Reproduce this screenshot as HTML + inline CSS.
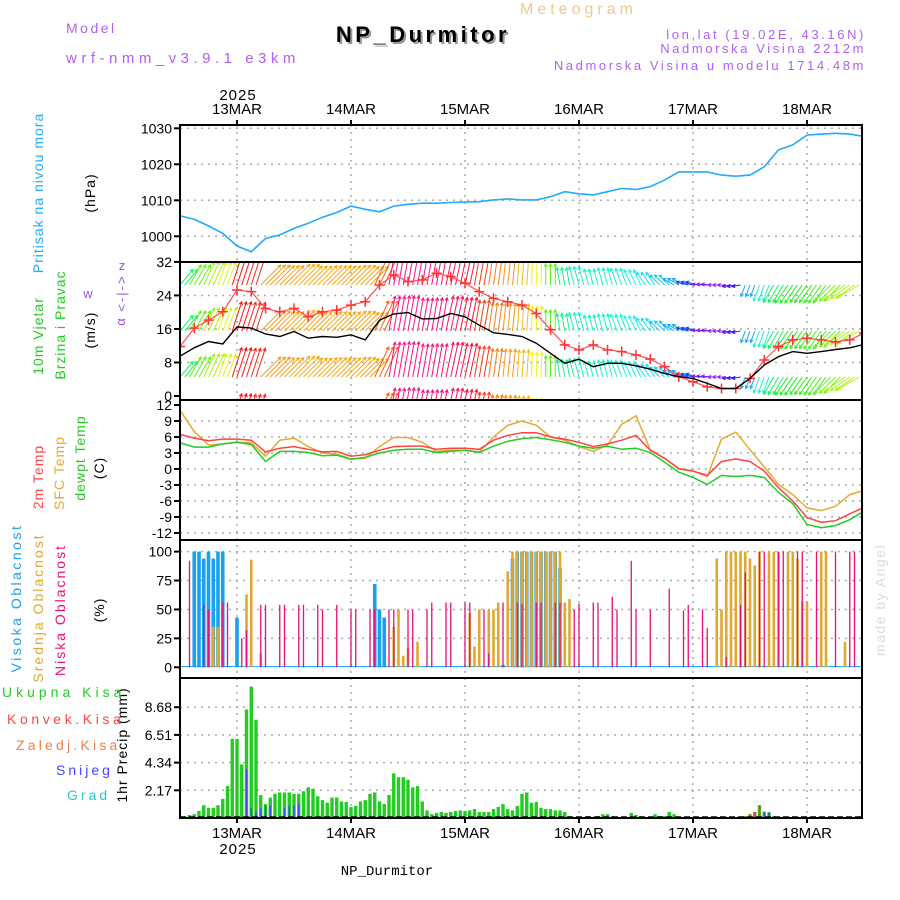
<!DOCTYPE html>
<html><head><meta charset="utf-8"><style>
html,body{margin:0;padding:0;background:#fff;}
svg{display:block;font-family:"Liberation Sans",sans-serif;}
</style></head><body>
<svg id="chart" width="900" height="900" viewBox="0 0 900 900" xmlns="http://www.w3.org/2000/svg">
<rect width="900" height="900" fill="#fff"/>
<text x="520" y="14" font-size="16" fill="#f0c890" letter-spacing="4">Meteogram</text>
<text x="66" y="33" font-size="14" fill="#b060f0" letter-spacing="2.5">Model</text>
<text x="66" y="63" font-size="15" fill="#b060f0" letter-spacing="4.5">wrf-nmm_v3.9.1 e3km</text>
<text x="425" y="44" font-size="22" font-weight="bold" fill="#999" text-anchor="middle" letter-spacing="3.5">NP_Durmitor</text>
<text x="423" y="42" font-size="22" font-weight="bold" fill="#000" text-anchor="middle" letter-spacing="3.5">NP_Durmitor</text>
<text x="866" y="39" font-size="13" fill="#b060f0" text-anchor="end" letter-spacing="2.6">lon,lat (19.02E, 43.16N)</text>
<text x="866" y="53" font-size="13" fill="#b060f0" text-anchor="end" letter-spacing="2.6">Nadmorska Visina 2212m</text>
<text x="866" y="70" font-size="13" fill="#b060f0" text-anchor="end" letter-spacing="2.6">Nadmorska Visina u modelu 1714.48m</text>
<text x="238" y="100" font-size="15" text-anchor="middle" letter-spacing="1">2025</text>
<text x="238" y="854" font-size="15" text-anchor="middle" letter-spacing="1">2025</text>
<text x="387" y="875" font-size="14" font-family="Liberation Mono,monospace" text-anchor="middle">NP_Durmitor</text>
<text transform="translate(885,600) rotate(-90)" font-size="14" fill="#d8dcd8" text-anchor="middle" letter-spacing="1.5">made by Angel</text>

<g font-size="14" text-anchor="middle" letter-spacing="1">
<text transform="translate(43,193) rotate(-90)" fill="#22aaff">Pritisak na nivou mora</text>
<text transform="translate(95,193) rotate(-90)" fill="#000">(hPa)</text>
<text transform="translate(43,336) rotate(-90)" fill="#22cc22">10m Vjetar</text>
<text transform="translate(65,325) rotate(-90)" fill="#22cc22">Brzina i Pravac</text>
<text transform="translate(95,330) rotate(-90)" fill="#000">(m/s)</text>
<text transform="translate(43,477) rotate(-90)" fill="#ff4444">2m Temp</text>
<text transform="translate(64,473) rotate(-90)" fill="#e8a830">SFC Temp</text>
<text transform="translate(85,458) rotate(-90)" fill="#22cc22">dewpt Temp</text>
<text transform="translate(104,468) rotate(-90)" fill="#000">(C)</text>
<text transform="translate(21,598) rotate(-90)" fill="#1aa0f0" letter-spacing="2.5">Visoka Oblacnost</text>
<text transform="translate(43,608) rotate(-90)" fill="#e0a830" letter-spacing="2">Srednja Oblacnost</text>
<text transform="translate(65,610) rotate(-90)" fill="#e8107a" letter-spacing="2">Niska Oblacnost</text>
<text transform="translate(104,610) rotate(-90)" fill="#000">(%)</text>
<text transform="translate(127,745) rotate(-90)" fill="#000">1hr Precip (mm)</text>
</g>
<g font-size="13" fill="#a050e0">
<text transform="translate(126,293) rotate(-90)" text-anchor="middle" letter-spacing="2">&lt;-|-&gt;</text>
<text x="122" y="270" text-anchor="middle">z</text>
<text x="88" y="298" text-anchor="middle">w</text>
<text transform="translate(125,322) rotate(-90)" text-anchor="middle">α</text>
</g>
<g font-size="14">
<text x="2" y="697" fill="#22cc22" letter-spacing="4">Ukupna Kisa</text>
<text x="7" y="724" fill="#ff4444" letter-spacing="3.6">Konvek.Kisa</text>
<text x="16" y="750" fill="#f08040" letter-spacing="3.2">Zaledj.Kisa</text>
<text x="56" y="775" fill="#4444ff" letter-spacing="3">Snijeg</text>
<text x="67" y="800" fill="#22cccc" letter-spacing="3">Grad</text>
</g>
<g id="plot"></g>
</svg>
<script>
// ---- data (t = hours from 12 MAR 12:00, 3-hourly samples) ----
const sampleStep = 3;
const dayLabels = ["13MAR","14MAR","15MAR","16MAR","17MAR","18MAR"];
const dayHours = [12,36,60,84,108,132];
const pressure = [1005.7,1004.7,1002.9,1000.8,997.3,995.7,999.4,1000.4,1002.2,1003.6,1005.3,1006.6,1008.4,1007.5,1006.8,1008.4,1008.9,1009.2,1009.2,1009.4,1009.5,1009.6,1010.1,1010.4,1010.1,1010.1,1011.0,1012.4,1011.8,1011.5,1012.4,1013.3,1013.0,1013.8,1015.6,1017.9,1017.9,1017.9,1017.0,1016.7,1017.0,1019.3,1024.0,1025.4,1028.1,1028.4,1028.6,1028.4,1027.7];
const pressureTicks = [1000,1010,1020,1030];
const windSpeed = [9.5,11.5,13.0,12.4,16.5,16.2,14.8,14.2,15.4,13.8,14.2,14.0,14.6,13.4,18.1,19.6,19.9,18.4,18.5,19.7,18.9,16.9,15.1,14.7,14.2,12.6,10.2,7.8,8.8,7.0,7.8,7.8,7.2,6.4,5.4,4.6,4.2,3.0,1.8,1.8,4.2,7.4,9.4,10.6,10.2,10.6,11.1,11.5,12.3];
const windGust = [11.8,16.2,18.1,20.1,25.3,24.9,20.9,20.1,20.9,18.9,20.1,20.5,21.7,22.5,26.5,28.9,27.3,27.7,29.3,28.5,26.9,24.9,23.3,22.5,21.7,19.7,15.8,12.2,11.0,12.2,11.0,10.6,9.8,8.8,7.0,4.6,3.4,2.2,1.8,1.8,4.2,8.6,11.8,13.4,13.8,13.4,12.9,13.4,15.0];
const windAngle = [50,60,65,70,72,72,45,45,45,45,45,45,45,45,65,80,80,80,80,78,78,80,82,84,86,88,90,100,105,105,105,110,115,125,135,150,165,175,180,190,250,250,240,235,235,235,225,215,210];
const windHue = [140,100,80,65,0,5,35,38,40,40,40,40,40,38,20,330,330,330,335,340,350,10,28,35,45,60,100,150,165,165,170,170,180,185,190,200,230,270,275,250,200,170,140,120,115,110,95,80,75];
const windTicks = [0,8,16,24,32];
const temp2m = [6.5,5.8,5.3,5.6,5.6,5.4,3.2,3.9,4.2,3.7,3.2,3.3,2.4,2.7,3.5,4.2,4.3,4.3,3.7,3.9,3.9,3.7,5.4,6.3,6.8,6.8,6.0,5.6,5.0,4.2,4.7,5.4,6.3,3.5,2.0,0.1,-0.4,-1.2,1.4,1.9,1.4,-0.4,-3.5,-6.0,-9.1,-10.0,-9.7,-8.4,-7.2];
const tempSfc = [11,7.0,4.5,4.7,5.0,4.9,2.4,5.4,5.8,4.2,3.0,2.8,1.9,2.0,4.2,5.9,5.9,5.0,3.3,3.5,3.5,3.2,6.0,8.2,9.0,8.2,6.0,5.4,4.2,3.3,4.5,8.4,10.0,3.6,2.0,0.0,-0.4,-1.4,5.6,6.9,3.6,0.4,-2.9,-4.8,-7.3,-7.8,-7.0,-4.8,-4.0];
const tempDew = [4.9,4.1,4.1,4.7,5.0,4.6,1.4,3.3,3.3,3.1,2.5,2.6,1.8,2.2,3.0,3.5,3.7,3.7,3.1,3.3,3.5,3.1,4.3,5.2,5.7,5.9,5.5,5.0,4.3,3.9,4.3,3.7,3.9,3.1,1.3,-0.6,-1.6,-2.9,-1.2,-1.4,-1.2,-1.6,-4.4,-6.5,-10.4,-11.0,-10.6,-9.5,-7.9];
const tempTicks = [-12,-9,-6,-3,0,3,6,9,12];
const cloudHighHours = [3,4,5,6,7,8,9,12,41,42,43,68,70,71,72,73,74,75,76,77,78,79,80];
const cloudHighValues = [100,100,94,100,94,100,100,43,72,50,43,2,94,100,100,100,100,100,100,100,100,100,86];
const cloudMidHours = [7,8,14,15,17,45,46,47,48,50,61,62,63,65,66,67,69,70,71,72,73,74,75,76,77,78,79,80,81,82,113,114,115,116,117,118,119,120,121,122,124,125,126,128,129,130,131,132,135,136,140];
const cloudMidValues = [35,35,63,93,12,35,50,10,17,22,47,18,50,50,50,56,83,100,100,100,100,100,100,100,100,100,100,100,56,59,94,50,100,100,100,100,100,94,88,100,100,100,100,100,100,94,57,57,100,100,22];
const cloudLowHours = [2,5,6,9,10,13,14,17,18,21,22,25,26,29,30,33,36,37,40,41,44,45,48,49,52,53,56,57,60,61,64,65,68,71,72,75,76,79,80,83,84,87,88,91,92,95,96,99,103,106,107,110,111,115,118,119,122,123,126,127,130,131,134,138,141,142];
const cloudLowValues = [92,54,50,56,56,25,32,54,54,54,54,54,54,54,50,54,50,50,50,50,50,50,50,50,50,56,56,56,56,56,50,12,56,56,55,56,56,56,56,50,55,56,56,61,50,92,50,50,68,49,54,50,34,9,54,82,100,100,100,100,100,100,100,100,100,100];
const cloudTicks = [0,25,50,75,100];
const precipStartHour = 2;
const precipTotal = [0.23,0.3,0.55,1.0,0.8,0.8,1.0,1.5,2.5,6.2,6.2,4.2,8.5,10.3,7.7,1.8,1.1,1.6,1.9,2.0,2.0,2.0,1.9,1.9,2.1,2.4,2.3,1.7,1.4,1.2,1.6,1.6,1.3,1.25,0.86,0.94,1.3,1.4,1.9,2.0,1.3,1.1,1.8,3.5,3.2,3.2,3.0,2.4,2.5,1.3,0.6,0.3,0.4,0.47,0.4,0.47,0.55,0.6,0.55,0.6,0.7,0.47,0.47,0.47,0.7,0.86,1.1,0.7,0.6,0.94,1.9,2.0,1.2,1.25,0.8,0.7,0.7,0.6,0.6,0.47,0.15,0];
const precipLateHours = [86,88,89,90,91,95,96,97,100,101,102,103,104,119,120,121,122,123,124,125];
const precipLateValues = [0.15,0.15,0.3,0.3,0.15,0.4,0.25,0.15,0.3,0.15,0.15,0.47,0.3,0.15,0.3,0.47,1.0,0.5,0.45,0.15];
const convHours = [13,119,120,121,122,123];
const convValues = [0.1,0.15,0.3,0.47,1.0,0.2];
const snowHours = [14,15,16,17,18,19,20,22,23,24,25,123,124,125];
const snowValues = [3.8,0.8,0.5,0.75,0.95,1.0,0.1,0.75,0.95,1.0,1.1,0.45,0.45,0.15];
const precipTicks = [2.17,4.34,6.51,8.68];

// ---- layout ----
const NS = "http://www.w3.org/2000/svg";
const plot = document.getElementById("plot");
const L = 180, R = 862;
const pxPerHour = 4.75;
const X = t => L + t * pxPerHour;
const P = {pres:[125,262], wind:[262,400], temp:[400,540], cloud:[540,678], prec:[678,818]};
const Yp = v => 200.3 - (v - 1010) * 3.6;
const Yw = v => 396 - v * 4.19;
const Yt = v => 469 - v * 5.333;
const Yc = v => 667.3 - v * 1.157;
const Yr = v => 818 - v * 12.76;

function mk(tag, attrs, parent) {
  const e = document.createElementNS(NS, tag);
  for (const k in attrs) e.setAttribute(k, attrs[k]);
  (parent || plot).appendChild(e);
  return e;
}
const defs = mk("defs", {});
const panels = Object.entries(P);
panels.forEach(([k, [y0, y1]]) => {
  const cp = mk("clipPath", {id: "clip-" + k}, defs);
  mk("rect", {x: L, y: y0, width: R - L, height: y1 - y0}, cp);
});

dayHours.forEach((h, i) => {
  const g = mk("line", {x1: X(h), x2: X(h), y1: 125, y2: 818, stroke: "#aaa", "stroke-width": 1.5, "stroke-dasharray": "2,5"});
  
  
  const tt = mk("text", {x: X(h), y: 114, "font-size": 15, "text-anchor": "middle"});
  tt.textContent = dayLabels[i];
  
  
  const bt = mk("text", {x: X(h), y: 838, "font-size": 15, "text-anchor": "middle"});
  bt.textContent = dayLabels[i];
  
  
  mk("line", {x1: X(h), x2: X(h), y1: 120, y2: 126, stroke: "#000", "stroke-width": 2});
  mk("line", {x1: X(h), x2: X(h), y1: 817, y2: 823, stroke: "#000", "stroke-width": 2});
});

function hgrid(ticks, yf, fmt, name, gridAll) {
  ticks.forEach((v) => {
    const y = yf(v);
    if (gridAll(v)) {
      const g = mk("line", {x1: L, x2: R, y1: y, y2: y, stroke: "#aaa", "stroke-width": 1.5, "stroke-dasharray": "2,5"});
      
      
    }
    mk("line", {x1: L - 6, x2: L, y1: y, y2: y, stroke: "#000", "stroke-width": 2});
    const t = mk("text", {x: L - 8, y: y + 5, "font-size": 14, "text-anchor": "end"});
    t.textContent = fmt(v);
    
    
  });
}
hgrid(pressureTicks, Yp, v => v, "pressure", () => true);
hgrid(windTicks, Yw, v => v, "wind", v => v > 0 && v < 32);
hgrid(tempTicks, Yt, v => v, "temp", v => v < 12);
hgrid(cloudTicks, Yc, v => v, "cloud", v => v > 0);
hgrid(precipTicks, Yr, v => v.toFixed(2), "precip", () => true);

function linePath(arr, yf) {
  return arr.map((v, i) => (i ? "L" : "M") + X(i * sampleStep).toFixed(1) + "," + yf(v).toFixed(1)).join("");
}
const pl = mk("path", {d: linePath(pressure, Yp), fill: "none", stroke: "#22aaff", "stroke-width": 1.6, "clip-path": "url(#clip-pres)"});



// wind arrows
const wg = mk("g", {"clip-path": "url(#clip-wind)"});


const rowBases = [285, 331, 377, 423];
for (let h = 0; h < 144; h++) {
  const i = Math.round(h / sampleStep);
  const a = windAngle[i] * Math.PI / 180;
  const len = 6 + 1.5 * windSpeed[i];
  const col = "hsl(" + windHue[i] + ",90%,52%)";
  rowBases.forEach(b => {
    const x0 = X(h), y0 = b;
    const x1 = x0 + len * Math.cos(a), y1 = y0 - len * Math.sin(a);
    const ha1 = a + Math.PI - 0.5, ha2 = a + Math.PI + 0.5;
    const ar = mk("path", {d: `M${x0},${y0}L${x1},${y1}M${x1 + 3.5 * Math.cos(ha1)},${y1 - 3.5 * Math.sin(ha1)}L${x1},${y1}L${x1 + 3.5 * Math.cos(ha2)},${y1 - 3.5 * Math.sin(ha2)}`, stroke: col, "stroke-width": 1, fill: "none"}, wg);
    
    
  });
}
const gl = mk("path", {d: linePath(windGust, Yw), fill: "none", stroke: "#ff5050", "stroke-width": 1.2, "clip-path": "url(#clip-wind)"});


windGust.forEach((v, i) => {
  const x = X(i * sampleStep), y = Yw(v);
  const m = mk("path", {d: `M${x - 5},${y}H${x + 5}M${x},${y - 5}V${y + 5}`, stroke: "#ff3333", "stroke-width": 1.5, "clip-path": "url(#clip-wind)"});
  
  
});
const sl = mk("path", {d: linePath(windSpeed, Yw), fill: "none", stroke: "#000", "stroke-width": 1.4, "clip-path": "url(#clip-wind)"});



[[tempSfc, "#e8a830", "temp-sfc-line"], [temp2m, "#ff4444", "temp-2m-line"], [tempDew, "#22cc22", "temp-dewpt-line"]].forEach(([arr, c, n]) => {
  const p = mk("path", {d: linePath(arr, Yt), fill: "none", stroke: c, "stroke-width": 1.5, "clip-path": "url(#clip-temp)"});
  
  
});

const cb = mk("line", {x1: L, x2: R, y1: 666.5, y2: 666.5, stroke: "#22aaff", "stroke-width": 1});


[[cloudHighHours, cloudHighValues, "#1aa0f0", 3.6, "cloud-high-bar"], [cloudMidHours, cloudMidValues, "#e0a830", 2.6, "cloud-mid-bar"], [cloudLowHours, cloudLowValues, "#e8107a", 1.3, "cloud-low-bar"]].forEach(([hs, vs, c, w, n]) => {
  hs.forEach((h, i) => {
    const y = Yc(vs[i]);
    const r = mk("rect", {x: X(h) - w / 2, y: y, width: w, height: Yc(0) - y, fill: c, "clip-path": "url(#clip-cloud)"});
    
    
  });
});

function pbar(h, v, c, w, n) {
  const y = Yr(v);
  const r = mk("rect", {x: X(h) - w / 2, y: y, width: w, height: Yr(0) - y, fill: c, "clip-path": "url(#clip-prec)"});
  
  
}
precipTotal.forEach((v, i) => pbar(precipStartHour + i, v, "#22cc22", 3.4, "precip-total-bar"));
precipLateHours.forEach((h, i) => pbar(h, precipLateValues[i], "#22cc22", 3.4, "precip-total-bar"));
convHours.forEach((h, i) => pbar(h, convValues[i], "#ff3333", 1.6, "precip-convective-bar"));
snowHours.forEach((h, i) => pbar(h, snowValues[i], "#4444ff", 1.4, "precip-snow-bar"));
mk("line", {x1: L, x2: R, y1: 817, y2: 817, stroke: "#000", "stroke-width": 1.5, "stroke-dasharray": "6,3"});

panels.forEach(([k, [y0, y1]]) => {
  const f = mk("rect", {x: L, y: y0, width: R - L, height: y1 - y0, fill: "none", stroke: "#000", "stroke-width": 2});
  
  
});
</script>
</body></html>
